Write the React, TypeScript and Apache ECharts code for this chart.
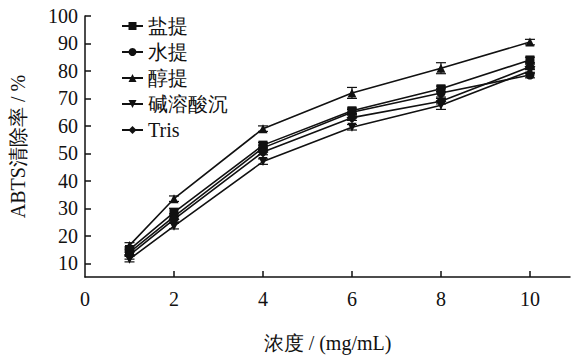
import React, { useEffect, useRef } from "react";
import * as echarts from "echarts";

const xValues = [1, 2, 4, 6, 8, 10];
const seriesNames = ["盐提", "水提", "醇提", "碱溶酸沉", "Tris"];
const symbols = ["rect", "circle", "triangle", "path://M0,0 L10,0 L5,10 Z", "diamond"];
const yan = [15, 28.5, 53, 65.5, 73.5, 84];
const shui = [14, 27, 52, 65, 72, 78.5];
const chun = [16.5, 33.5, 59, 72, 81, 90.5];
const jian = [11.5, 23.5, 47, 59.5, 67.5, 80];
const tris = [13, 26, 50.5, 63, 69, 81.5];
const errYan = [1, 1.5, 1, 1, 1, 1];
const errShui = [1, 1, 1, 1, 1.5, 1];
const errChun = [1, 1, 1, 2, 2, 1];
const errJian = [1, 1, 1, 1, 1.5, 1];
const errTris = [1.5, 1, 1, 1, 1, 1];
const yTicks = [10, 20, 30, 40, 50, 60, 70, 80, 90, 100];
const xTicks = [0, 2, 4, 6, 8, 10];

const allValues = [yan, shui, chun, jian, tris];
const allErrors = [errYan, errShui, errChun, errJian, errTris];

const FONT = "Liberation Serif";

export default function App() {
  const ref = useRef<HTMLDivElement>(null);
  useEffect(() => {
    document.body.style.margin = "0";
    const chart = echarts.init(ref.current!, undefined, { renderer: "svg" });
    const lineSeries = seriesNames.map((name, i) => ({
      name,
      type: "line",
      data: xValues.map((x, j) => [x, allValues[i][j]]),
      symbol: symbols[i],
      symbolSize: i === 4 ? 11 : 9,
      lineStyle: { color: "#111", width: 1.6 },
      itemStyle: { color: "#111" },
      z: 3,
    }));
    const errSeries = seriesNames.map((_, i) => ({
      type: "custom",
      data: xValues.map((x, j) => [x, allValues[i][j] - allErrors[i][j], allValues[i][j] + allErrors[i][j]]),
      renderItem: (params: any, api: any) => {
        const x = api.value(0);
        const lo = api.coord([x, api.value(1)]);
        const hi = api.coord([x, api.value(2)]);
        const w = 5;
        const style = { stroke: "#111", lineWidth: 1.2 };
        return {
          type: "group",
          children: [
            { type: "line", shape: { x1: lo[0], y1: lo[1], x2: hi[0], y2: hi[1] }, style },
            { type: "line", shape: { x1: hi[0] - w, y1: hi[1], x2: hi[0] + w, y2: hi[1] }, style },
            { type: "line", shape: { x1: lo[0] - w, y1: lo[1], x2: lo[0] + w, y2: lo[1] }, style },
          ],
        };
      },
      encode: { x: 0, y: [1, 2] },
      z: 2,
      silent: true,
    }));
    chart.setOption({
      animation: false,
      backgroundColor: "#fff",
      textStyle: { fontFamily: FONT, color: "#111" },
      grid: { left: 82, right: 2, top: 16, bottom: 69 },
      legend: {
        data: seriesNames,
        orient: "vertical",
        left: 116,
        top: 11,
        itemWidth: 21,
        itemHeight: 10,
        itemGap: 6,
        textStyle: { fontFamily: FONT, fontSize: 20, color: "#111" },
      },
      xAxis: {
        type: "value",
        min: 0,
        max: 10.9,
        interval: 2,
        name: "浓度 / (mg/mL)",
        nameLocation: "middle",
        nameGap: 56,
        nameTextStyle: { fontFamily: FONT, fontSize: 20, color: "#111" },
        axisLine: { lineStyle: { color: "#111", width: 1.5 } },
        axisTick: { inside: true, length: 6, lineStyle: { color: "#111", width: 1.5 }, customValues: [2, 4, 6, 8, 10] },
        axisLabel: { fontFamily: FONT, fontSize: 20, color: "#111", margin: 12, customValues: xTicks },
        splitLine: { show: false },
      },
      yAxis: {
        type: "value",
        min: 5,
        max: 100,
        name: "ABTS清除率 / %",
        nameLocation: "middle",
        nameGap: 57,
        nameTextStyle: { fontFamily: FONT, fontSize: 20, color: "#111" },
        axisLine: { show: true, lineStyle: { color: "#111", width: 1.5 } },
        axisTick: { show: true, inside: true, length: 6, lineStyle: { color: "#111", width: 1.5 }, customValues: yTicks },
        axisLabel: { fontFamily: FONT, fontSize: 20, color: "#111", margin: 7, customValues: yTicks },
        splitLine: { show: false },
      },
      series: [...errSeries, ...lineSeries],
    });
    return () => chart.dispose();
  }, []);
  return <div ref={ref} style={{ position: "absolute", left: 0, top: 0, width: 572, height: 358 }} />;
}
